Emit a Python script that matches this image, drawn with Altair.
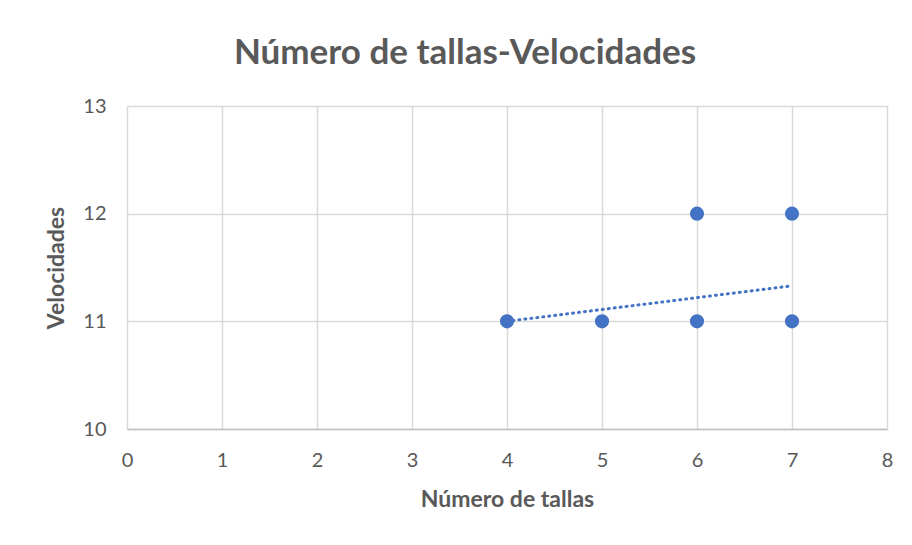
import altair as alt
import pandas as pd

# Data
tallas = [4, 5, 6, 6, 7, 7]
velocidades = [11, 11, 11, 12, 11, 12]

# Dotted trend line endpoints (as drawn)
trend_x = [4, 7]
trend_y = [11.0, 11.33]

x_ticks = [0, 1, 2, 3, 4, 5, 6, 7, 8]
y_ticks = [10, 11, 12, 13]

pts = pd.DataFrame({"x": tallas, "y": velocidades})
trend = pd.DataFrame({"x": trend_x, "y": trend_y})

FONT = "Lato"
TXT = "#595959"
BLUE = "#4472C4"

xscale = alt.Scale(domain=[0, 8], nice=False, zero=False)
yscale = alt.Scale(domain=[10, 13], nice=False, zero=False)

xaxis = alt.Axis(values=x_ticks, format="d", title="Número de tallas", grid=True,
                 gridColor="#d9d9d9", gridWidth=1.5, ticks=False,
                 domain=True, domainColor="#bfbfbf", domainWidth=1.5,
                 labelFlush=False, labelAlign="center",
                 labelFont=FONT, labelFontSize=20, labelColor=TXT, labelPadding=21,
                 titleFont=FONT, titleFontSize=23, titleFontWeight="bold",
                 titleColor=TXT, titlePadding=18)
yaxis = alt.Axis(values=y_ticks, format="d", title="Velocidades", grid=True,
                 gridColor="#d9d9d9", gridWidth=1.5, ticks=False, domain=False,
                 labelFlush=False,
                 labelFont=FONT, labelFontSize=20, labelColor=TXT, labelPadding=21,
                 titleFont=FONT, titleFontSize=23, titleFontWeight="bold",
                 titleColor=TXT, titlePadding=14)

line = alt.Chart(trend).mark_line(
    color=BLUE, strokeWidth=3, strokeDash=[1, 5], strokeCap="round"
).encode(
    x=alt.X("x:Q", scale=xscale, axis=xaxis),
    y=alt.Y("y:Q", scale=yscale, axis=yaxis),
)

points = alt.Chart(pts).mark_circle(size=200, color=BLUE, opacity=1).encode(
    x=alt.X("x:Q", scale=xscale),
    y=alt.Y("y:Q", scale=yscale),
)

chart = alt.layer(line, points).properties(
    width=760,
    height=323,
    title=alt.TitleParams("Número de tallas-Velocidades", font=FONT, fontSize=35,
                          fontWeight="bold", color=TXT, anchor="middle",
                          offset=25, dx=-42),
    autosize=alt.AutoSizeParams(type="none"),
    padding={"left": 119, "top": 98, "right": 17, "bottom": 108},
).configure_view(stroke=None).configure(background="white")

chart.save("out.html", embed_options={"renderer": "svg", "actions": False})
